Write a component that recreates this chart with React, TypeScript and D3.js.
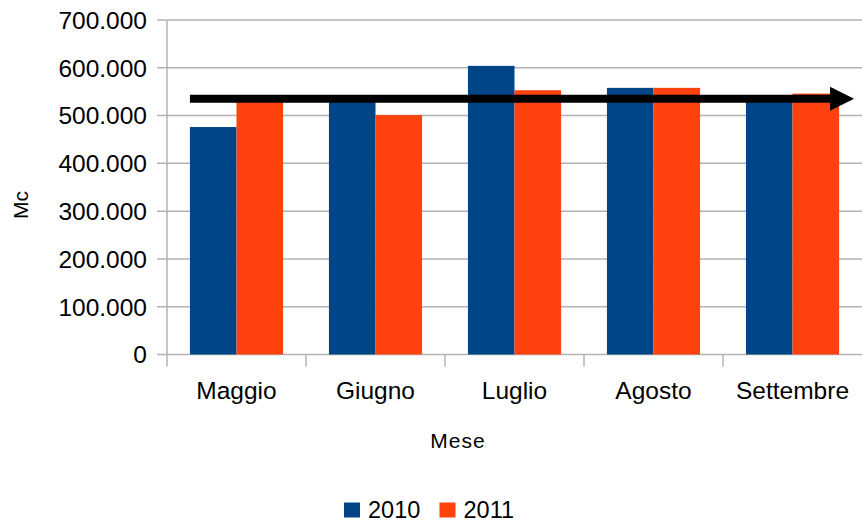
import React from "react";
import * as d3 from "d3";

// Monthly volumes (Mc) for the two seasons
const months = ["Maggio", "Giugno", "Luglio", "Agosto", "Settembre"];
const seriesNames = ["2010", "2011"];
const values2010 = [476000, 530000, 604000, 558000, 533000];
const values2011 = [530000, 501000, 553000, 558000, 546000];
const yTicks = [0, 100000, 200000, 300000, 400000, 500000, 600000, 700000];
// Level of the trend arrow drawn across the bars
const arrowLevel = 535000;

const colors: Record<string, string> = { "2010": "#004586", "2011": "#ff420e" };

const W = 862;
const H = 523;
const plot = { left: 167, right: 862, top: 20, bottom: 354.5 };
const font = "'Liberation Sans', Arial, sans-serif";
const gridColor = "#b3b3b3";

const itLocale = d3.formatLocale({
  decimal: ",",
  thousands: ".",
  grouping: [3],
  currency: ["€", ""],
});
const fmt = itLocale.format(",d");

export default function App() {
  const x = d3.scaleBand<string>().domain(months).range([plot.left, plot.right]).padding(0);
  const groupW = x.bandwidth() * 0.67;
  const x1 = d3.scaleBand<string>().domain(seriesNames).range([0, groupW]).padding(0);
  const y = d3.scaleLinear().domain([0, 700000]).range([plot.bottom, plot.top]);

  const rows = months.map((m, i) => ({
    month: m,
    vals: [
      { s: "2010", v: values2010[i] },
      { s: "2011", v: values2011[i] },
    ],
  }));

  const groupOffset = (x.bandwidth() - groupW) / 2;
  const arrowX0 = (x(months[0]) as number) + groupOffset;
  const arrowX1 = (x(months[months.length - 1]) as number) + groupOffset + groupW + 15;
  const ay = y(arrowLevel);
  const headLen = 24;
  const headHalf = 12;

  return (
    <svg
      width={W}
      height={H}
      style={{ position: "absolute", left: 0, top: 0, display: "block", background: "#fff" }}
    >
      {/* horizontal gridlines and y ticks */}
      {yTicks.map((t) => (
        <g key={t}>
          <line
            x1={plot.left - 10}
            x2={plot.right}
            y1={y(t)}
            y2={y(t)}
            stroke={gridColor}
            strokeWidth={1.5}
          />
          <text
            x={147}
            y={y(t)}
            dy="0.36em"
            textAnchor="end"
            fontFamily={font}
            fontSize={24.5}
            fill="#000"
          >
            {fmt(t)}
          </text>
        </g>
      ))}

      {/* y axis line */}
      <line x1={plot.left} x2={plot.left} y1={plot.top} y2={plot.bottom} stroke={gridColor} strokeWidth={1.5} />

      {/* category tick marks */}
      {months.map((m) => (
        <line
          key={m}
          x1={x(m) as number}
          x2={x(m) as number}
          y1={plot.bottom}
          y2={plot.bottom + 12}
          stroke={gridColor}
          strokeWidth={1.5}
        />
      ))}

      {/* bars */}
      {rows.map((r) => (
        <g key={r.month} transform={`translate(${(x(r.month) as number) + groupOffset},0)`}>
          {r.vals.map((d) => (
            <rect
              key={d.s}
              x={x1(d.s) as number}
              y={y(d.v)}
              width={x1.bandwidth()}
              height={y(0) - y(d.v)}
              fill={colors[d.s]}
            />
          ))}
        </g>
      ))}

      {/* category labels */}
      {months.map((m) => (
        <text
          key={m}
          x={(x(m) as number) + x.bandwidth() / 2}
          y={399}
          textAnchor="middle"
          fontFamily={font}
          fontSize={24.5}
          fill="#000"
        >
          {m}
        </text>
      ))}

      {/* trend arrow */}
      <line x1={arrowX0} x2={arrowX1 - headLen + 2} y1={ay} y2={ay} stroke="#000" strokeWidth={8} />
      <path
        d={`M${arrowX1 - headLen},${ay - headHalf} L${arrowX1},${ay} L${arrowX1 - headLen},${ay + headHalf} Z`}
        fill="#000"
      />

      {/* axis titles */}
      <text
        x={458}
        y={447.5}
        textAnchor="middle"
        fontFamily={font}
        fontSize={21}
        letterSpacing={1}
        fill="#000"
      >
        Mese
      </text>
      <text
        transform={`translate(27.5,205) rotate(-90)`}
        textAnchor="middle"
        fontFamily={font}
        fontSize={21}
        fill="#000"
      >
        Mc
      </text>

      {/* legend */}
      {seriesNames.map((s, i) => {
        const lx = i === 0 ? 344 : 439.5;
        return (
          <g key={s}>
            <rect x={lx} y={502.5} width={16} height={15} fill={colors[s]} />
            <text x={lx + 24} y={517.5} fontFamily={font} fontSize={23.5} fill="#000">
              {s}
            </text>
          </g>
        );
      })}
    </svg>
  );
}
